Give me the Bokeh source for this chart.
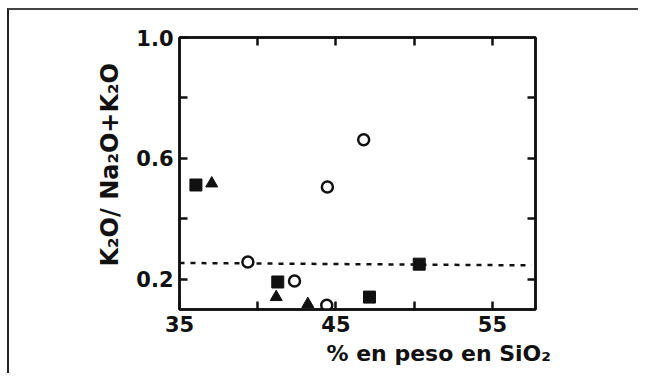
from bokeh.plotting import figure
from bokeh.models import FixedTicker, LinearAxis, Range1d, Title, NumeralTickFormatter
from bokeh.embed import file_html
from bokeh.resources import INLINE

# ---- data ----
x_min, x_max = 35, 57.75
y_min, y_max = 0.1, 1.0

square_x = [36.05, 41.28, 47.14, 50.32]
square_y = [0.512, 0.191, 0.141, 0.250]

triangle_x = [37.06, 41.18, 43.2]
triangle_y = [0.517, 0.141, 0.118]

circle_x = [39.37, 42.35, 44.45, 46.77, 44.41]
circle_y = [0.257, 0.194, 0.505, 0.662, 0.114]

ref_line_x = [35.0, 57.5]
ref_line_y = [0.254, 0.246]

x_label_ticks = [35, 45, 55]
x_minor_ticks = [40, 50]
x_top_ticks = [40, 45, 50, 55]
y_label_ticks = [0.2, 0.6, 1.0]
y_minor_ticks = [0.4, 0.8]
y_right_ticks = [0.2, 0.4, 0.6, 0.8]

x_title = "% en peso en SiO₂"
y_title = "K₂O/ Na₂O+K₂O"

FONT = "DejaVu Sans"
INK = "#111111"

p = figure(
    width=631, height=365,
    x_range=Range1d(x_min, x_max), y_range=Range1d(y_min, y_max),
    output_backend="svg", toolbar_location=None,
    x_axis_location=None, y_axis_location=None,
    min_border_left=170, min_border_right=105, min_border_top=27, min_border_bottom=66,
)
p.grid.visible = False
p.outline_line_color = INK
p.outline_line_width = 2.5
p.styles = {"margin-left": "7px", "margin-top": "8px",
            "border-left": "2px solid #222222", "border-top": "2px solid #444444"}


def style_axis(ax, labels=True):
    ax.axis_line_color = INK
    ax.axis_line_width = 2.5
    ax.major_tick_in = 8
    ax.major_tick_out = 0
    ax.minor_tick_in = 8
    ax.minor_tick_out = 0
    ax.major_tick_line_width = 2.5
    ax.minor_tick_line_width = 2.5
    ax.major_tick_line_color = INK
    ax.minor_tick_line_color = INK
    ax.major_label_text_font = FONT
    ax.major_label_text_font_size = "21px"
    ax.major_label_text_font_style = "bold"
    ax.major_label_text_color = INK if labels else None
    ax.major_label_standoff = 6


bottom = LinearAxis(ticker=FixedTicker(ticks=x_label_ticks, minor_ticks=x_minor_ticks),
                    formatter=NumeralTickFormatter(format="0"))
style_axis(bottom)
p.add_layout(bottom, "below")

left = LinearAxis(ticker=FixedTicker(ticks=y_label_ticks, minor_ticks=y_minor_ticks),
                  formatter=NumeralTickFormatter(format="0.0"))
style_axis(left)
p.add_layout(left, "left")

top = LinearAxis(ticker=FixedTicker(ticks=x_top_ticks, minor_ticks=[]))
style_axis(top, labels=False)
top.major_label_text_font_size = "0px"
p.add_layout(top, "above")

right = LinearAxis(ticker=FixedTicker(ticks=y_right_ticks, minor_ticks=[]))
style_axis(right, labels=False)
right.major_label_text_font_size = "0px"
p.add_layout(right, "right")

p.add_layout(Title(text=x_title, align="left", offset=147, text_font=FONT,
                   text_font_size="22px", text_font_style="bold", text_color=INK,
                   standoff=9), "below")
p.add_layout(Title(text=y_title, align="left", offset=43, text_font=FONT,
                   text_font_size="24px", text_font_style="bold", text_color=INK,
                   standoff=19), "left")

p.line(ref_line_x, ref_line_y, line_color=INK, line_width=2.5, line_dash="5 6")
p.scatter(square_x, square_y, marker="square", size=12, fill_color=INK, line_color=INK)
p.scatter(triangle_x, triangle_y, marker="triangle", size=12, fill_color=INK, line_color=INK)
p.scatter(circle_x, circle_y, marker="circle", size=11, fill_color="white",
          line_color=INK, line_width=2.5)

open("out.html", "w").write(file_html(p, INLINE))
